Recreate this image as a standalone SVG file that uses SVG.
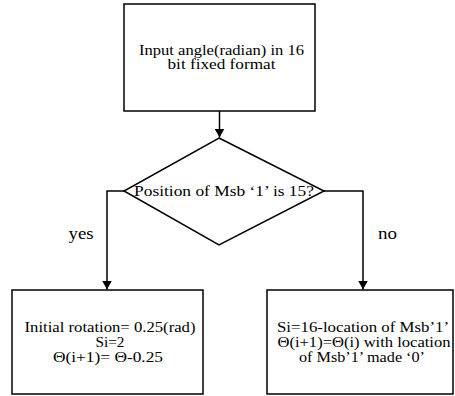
<svg xmlns="http://www.w3.org/2000/svg" width="455" height="396" viewBox="0 0 455 396">
<style>
.box{fill:#fff;stroke:#000;stroke-width:1.5}
.ln{fill:none;stroke:#000;stroke-width:1.5}
.t{font-family:'Liberation Serif','DejaVu Serif','Times New Roman',Times,serif;font-size:14px;fill:#000;text-anchor:middle}
.lb{font-size:16px}
</style>
<defs>
<marker id="ad" markerWidth="9" markerHeight="10" refX="9" refY="5" orient="auto" markerUnits="userSpaceOnUse" viewBox="0 0 9 10">
<path d="M0,0 L9,5 L0,10 Z" fill="#000"/>
</marker>
</defs>
<g id="connectors">
<path class="ln" d="M219.5,111 V137.5" marker-end="url(#ad)"/>
<path class="ln" d="M124,191 H107 V289.5" marker-end="url(#ad)"/>
<path class="ln" d="M324,191 H363 V289.5" marker-end="url(#ad)"/>
<text class="t lb" x="81" y="238.5" textLength="25" lengthAdjust="spacingAndGlyphs">yes</text>
<text class="t lb" x="387.5" y="238.5" textLength="19" lengthAdjust="spacingAndGlyphs">no</text>
</g>
<g id="start">
<rect class="box" x="124" y="4" width="191" height="107"/>
<text class="t" x="221.5" y="55" textLength="165" lengthAdjust="spacingAndGlyphs">Input angle(radian) in 16</text>
<text class="t" x="221.5" y="69" textLength="108" lengthAdjust="spacingAndGlyphs">bit fixed format</text>
</g>
<g id="decision">
<polygon class="box" points="219,138 324,191 219,245 124,191"/>
<text class="t" x="224" y="195.5" textLength="180" lengthAdjust="spacingAndGlyphs">Position of Msb ‘1’ is 15?</text>
</g>
<g id="yesbox">
<rect class="box" x="12" y="290" width="191" height="104"/>
<text class="t" x="110" y="331.5" textLength="171" lengthAdjust="spacingAndGlyphs">Initial rotation= 0.25(rad)</text>
<text class="t" x="110" y="346.5" textLength="29" lengthAdjust="spacingAndGlyphs">Si=2</text>
<text class="t" x="108" y="361.5" textLength="110" lengthAdjust="spacingAndGlyphs">Θ(i+1)= Θ-0.25</text>
</g>
<g id="nobox">
<rect class="box" x="267" y="290" width="186" height="104"/>
<text class="t" x="363" y="331.5" textLength="172" lengthAdjust="spacingAndGlyphs">Si=16-location of Msb’1’</text>
<text class="t" x="364" y="346.5" textLength="173" lengthAdjust="spacingAndGlyphs">Θ(i+1)=Θ(i) with location</text>
<text class="t" x="362" y="361.5" textLength="126" lengthAdjust="spacingAndGlyphs">of Msb’1’ made ‘0’</text>
</g>
</svg>
